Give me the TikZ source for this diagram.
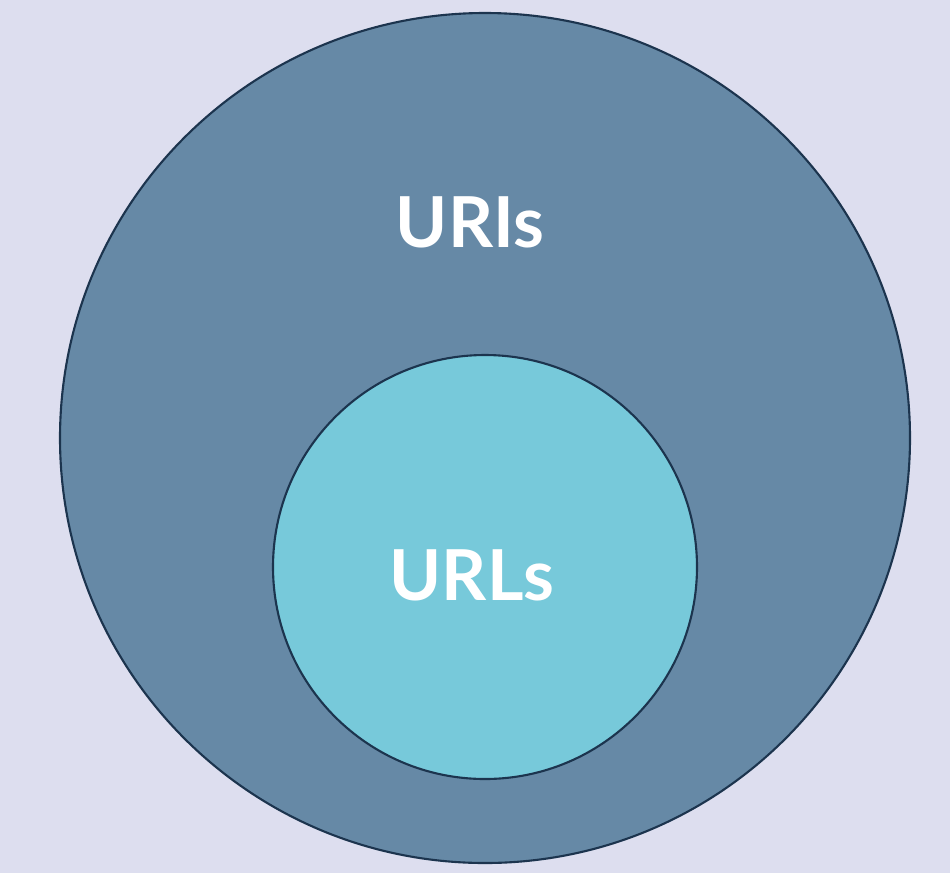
\documentclass[tikz,border=0pt]{standalone}
\usepackage{fontspec}
\setmainfont{Lato}
\definecolor{fond}{RGB}{221,222,239}
\definecolor{uribleu}{RGB}{102,137,166}
\definecolor{urlcyan}{RGB}{119,201,218}
\definecolor{contour}{RGB}{28,52,78}
\begin{document}
\begin{tikzpicture}[x=0.02cm,y=-0.02cm]
\tikzset{etiquette/.style={text=white,font=\fontsize{40}{48}\selectfont\bfseries,inner sep=0pt}}
\fill [fond] (0,0) rectangle (950,873);
\useasboundingbox (0,0) rectangle (950,873);
\draw [line width=1.2pt,contour,fill=uribleu] (485,438) circle (425);
\draw [line width=1.2pt,contour,fill=urlcyan] (485,567) circle (212);
\node [etiquette] (uri) at (470,222) {URIs};
\node [etiquette] (url) at (472,575) {URLs};
\end{tikzpicture}
\end{document}
